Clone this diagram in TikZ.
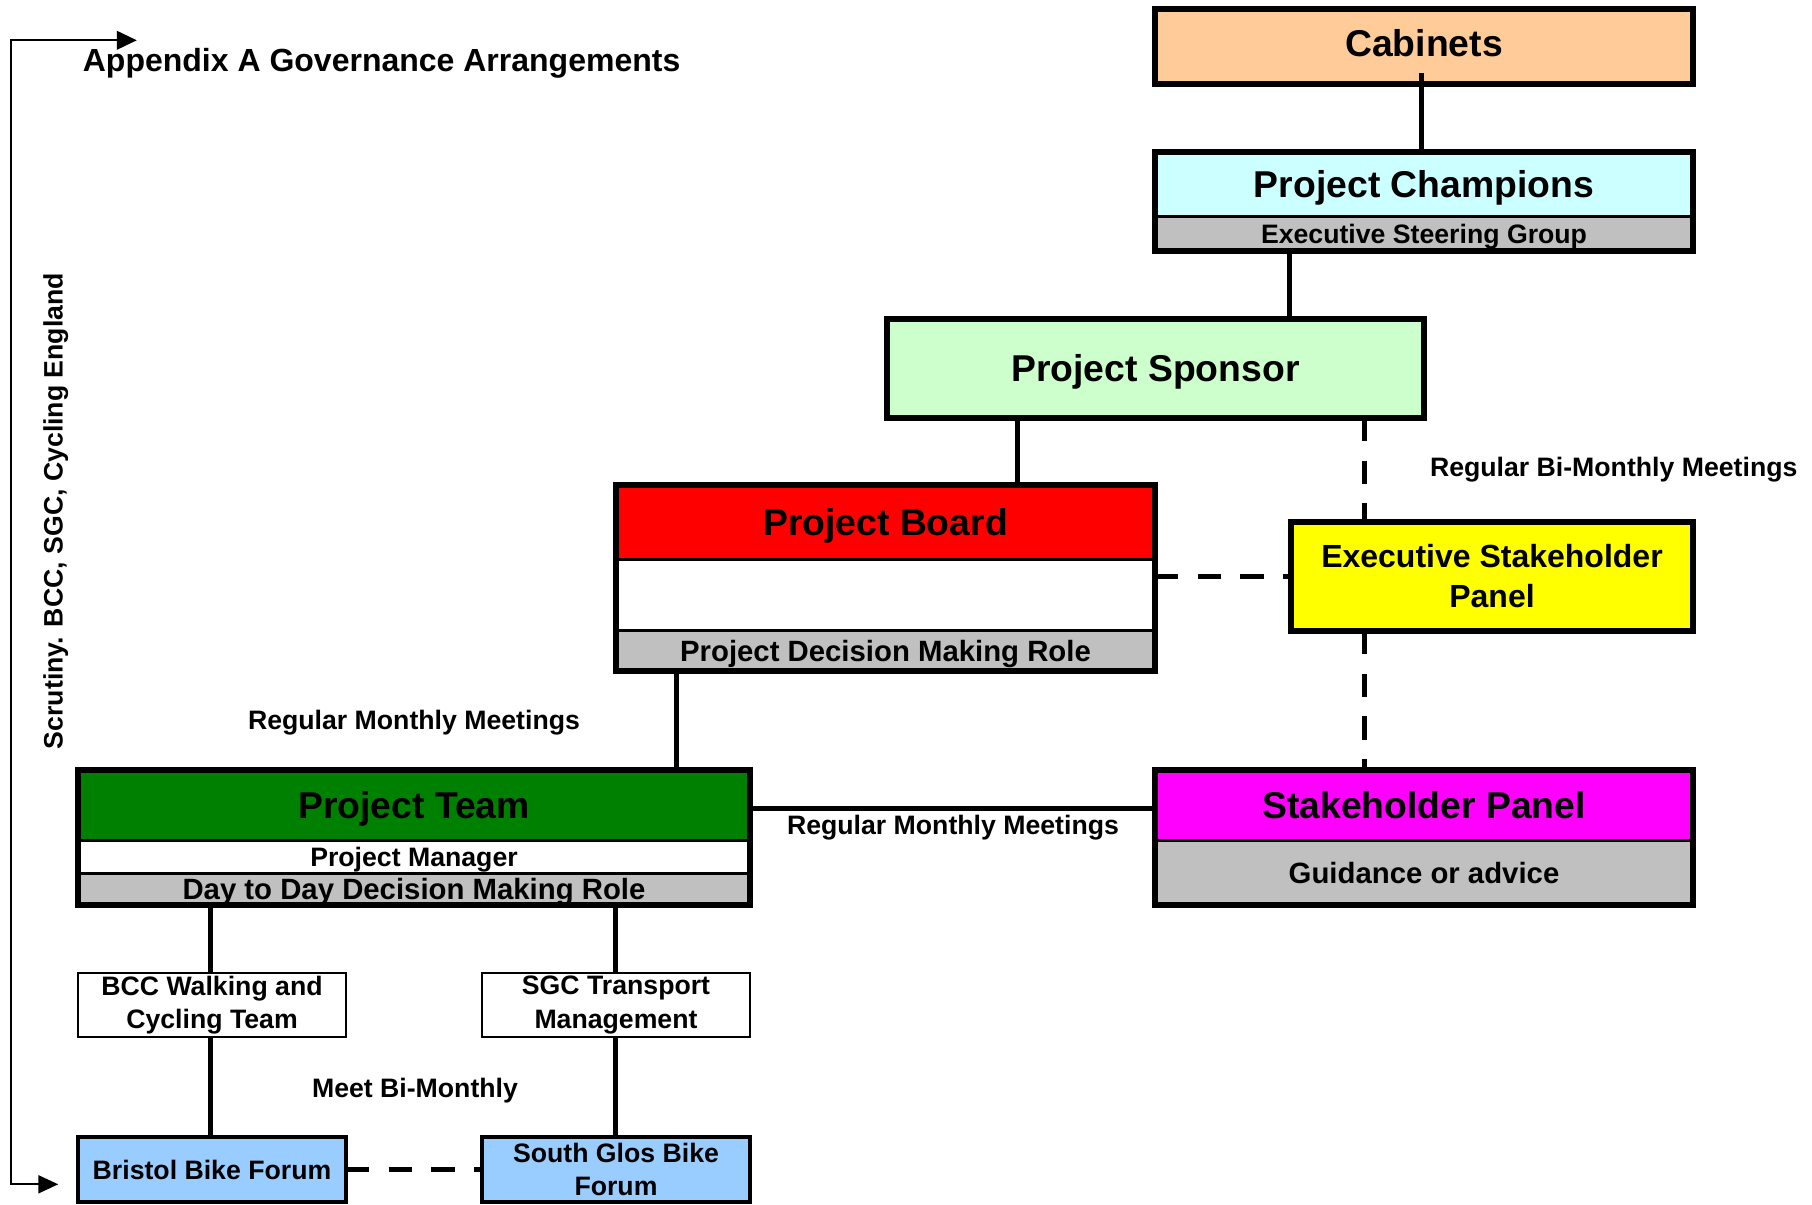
\documentclass[tikz,border=0pt]{standalone}
\usepackage{fontspec}
\setmainfont{Liberation Sans}
\usetikzlibrary{arrows.meta}
\definecolor{cabfill}{HTML}{FFCC99}
\definecolor{champfill}{HTML}{CCFFFF}
\definecolor{greyfill}{HTML}{C0C0C0}
\definecolor{sponsfill}{HTML}{CCFFCC}
\definecolor{boardfill}{HTML}{FF0000}
\definecolor{espfill}{HTML}{FFFF00}
\definecolor{teamfill}{HTML}{008000}
\definecolor{spfill}{HTML}{FF00FF}
\definecolor{forumfill}{HTML}{99CCFF}
\begin{document}
\begin{tikzpicture}[x=0.75pt,y=-0.75pt,
  sec/.style={inner sep=0pt, outer sep=0pt, draw=black, line width=2.25pt, align=center},
  fbig/.style={font=\fontsize{28}{33.6}\selectfont\bfseries, text height=20pt, text depth=0pt},
  fmid/.style={font=\fontsize{22}{26.4}\selectfont\bfseries, text height=15.75pt, text depth=0pt},
  fsml/.style={font=\fontsize{20}{24}\selectfont\bfseries, text height=14.3pt, text depth=0pt},
  ftwo/.style={font=\fontsize{20}{25}\selectfont\bfseries},
  fesp/.style={font=\fontsize{24}{30}\selectfont\bfseries},
  boxframe/.style={draw=black, line width=4.1pt},
  thinframe/.style={draw=black, line width=2pt},
  forumframe/.style={draw=black, line width=2.6pt},
  conn/.style={draw=black, line width=3.75pt},
  dconn/.style={draw=black, line width=3.9pt, dash pattern=on 17.5pt off 14.5pt},
  lbl/.style={font=\fontsize{20}{24}\selectfont\bfseries, inner sep=0pt, outer sep=0pt},
  scrutarrow/.style={draw=black, line width=1.5pt,
    {Triangle[length=15pt,width=14pt]}-{Triangle[length=15pt,width=13.5pt]}}
]
\useasboundingbox (0,0) rectangle (1812,1205);

% connector columns
\coordinate (c0) at (1421,0);
\coordinate (c1) at (1289,0);
\coordinate (c2) at (1017,0);
\coordinate (c3) at (1364.5,0);
\coordinate (c4) at (676,0);
\coordinate (c5) at (210.5,0);
\coordinate (c6) at (615,0);
\coordinate (h1) at (0,808);

% Cabinets
\node[sec, fbig, text depth=4.5pt, fill=cabfill, minimum width=403.5pt, minimum height=56.25pt] (cab) at (1424,46.5) {Cabinets};
\draw[boxframe] (cab.north west) rectangle (cab.south east);

% Project Champions
\node[sec, fbig, fill=champfill, minimum width=403.5pt, minimum height=48.75pt] (champ1) at (1424,184.5) {Project Champions};
\node[sec, fsml, fill=greyfill, minimum width=403.5pt, minimum height=25.5pt] (champ2) at (1424,234) {Executive Steering Group};
\draw[boxframe] (champ1.north west) rectangle (champ2.south east);

% Project Sponsor
\node[sec, fbig, fill=sponsfill, minimum width=402.75pt, minimum height=74.25pt] (spons) at (1155.5,368.5) {Project Sponsor};
\draw[boxframe] (spons.north west) rectangle (spons.south east);

% Project Board
\node[sec, fbig, fill=boardfill, minimum width=404.25pt, minimum height=55.5pt] (board1) at (885.5,522) {Project Board};
\node[sec, fill=white, minimum width=404.25pt, minimum height=53.25pt] (board2) at (885.5,594.5) {};
\node[sec, fmid, fill=greyfill, minimum width=404.25pt, minimum height=30.75pt] (board3) at (885.5,650.5) {Project Decision Making Role};
\draw[boxframe] (board1.north west) rectangle (board3.south east);

% Executive Stakeholder Panel
\node[sec, fesp, fill=espfill, minimum width=301.5pt, minimum height=81.75pt] (esp) at (1492,576.5) {Executive Stakeholder\\Panel};
\draw[boxframe] (esp.north west) rectangle (esp.south east);

% Project Team
\node[sec, fbig, fill=teamfill, minimum width=504pt, minimum height=52.5pt] (team1) at (414,805) {Project Team};
\node[sec, fsml, fill=white, minimum width=504pt, minimum height=24.75pt] (team2) at (414,856.5) {Project Manager};
\node[sec, fmid, fill=greyfill, minimum width=504pt, minimum height=24pt] (team3) at (414,889) {Day to Day Decision Making Role};
\draw[boxframe] (team1.north west) rectangle (team3.south east);

% Stakeholder Panel
\node[sec, fbig, fill=spfill, minimum width=403.5pt, minimum height=52.5pt] (sp1) at (1424,805) {Stakeholder Panel};
\node[sec, fmid, fill=greyfill, minimum width=403.5pt, minimum height=48.75pt] (sp2) at (1424,872.5) {Guidance or advice};
\draw[boxframe] (sp1.north west) rectangle (sp2.south east);

% Local teams
\node[sec, ftwo, thinframe, fill=white, minimum width=201pt, minimum height=48pt] (bcc) at (212,1005) {BCC Walking and\\Cycling Team};
\node[sec, ftwo, thinframe, fill=white, minimum width=201pt, minimum height=48pt] (sgc) at (616,1005) {SGC Transport\\Management};

% Forums
\node[sec, fsml, forumframe, fill=forumfill, minimum width=201pt, minimum height=48.75pt] (bristol) at (212,1169.5) {Bristol Bike Forum};
\node[sec, ftwo, forumframe, fill=forumfill, minimum width=201pt, minimum height=48.75pt] (sgf) at (616,1169.5) {South Glos Bike\\Forum};

% connectors
\draw[conn] (cab.south -| c0) ++(0pt,8.25pt) -- (champ1.north -| c0);
\draw[conn] (champ2.south -| c1) -- (spons.north -| c1);
\draw[conn] (spons.south -| c2) -- (board1.north -| c2);
\draw[dconn] (spons.south -| c3) -- (esp.north -| c3);
\draw[dconn] (board2.east |- esp.west) -- (esp.west);
\draw[dconn] (esp.south -| c3) -- (sp1.north -| c3);
\draw[conn] (board3.south -| c4) -- (team1.north -| c4);
\draw[conn] (team1.east |- h1) -- (sp1.west |- h1);
\draw[conn] (team3.south -| c5) -- (bcc.north -| c5);
\draw[conn] (team3.south -| c6) -- (sgc.north -| c6);
\draw[conn] (bcc.south -| c5) -- (bristol.north -| c5);
\draw[conn] (sgc.south -| c6) -- (sgf.north -| c6);
\draw[dconn] (bristol.east) -- (sgf.west);

% labels
\node[font=\fontsize{24}{28.8}\selectfont\bfseries, inner sep=0pt, anchor=base west] (title) at (82.6,72) {Appendix A Governance Arrangements};
\node[lbl, anchor=base west] (lblA) at (1430,476) {Regular Bi-Monthly Meetings};
\node[lbl, anchor=base] (lblB) at (414,729.5) {Regular Monthly Meetings};
\node[lbl, anchor=base] (lblC) at (953,834) {Regular Monthly Meetings};
\node[lbl, anchor=base] (lblD) at (415,1097.5) {Meet Bi-Monthly};
\node[lbl, rotate=90, anchor=base] (scrut) at (62.5,511) {Scrutiny. BCC, SGC, Cycling England};

% scrutiny arrow
\coordinate (atop) at (136.8,40.3);
\coordinate (abot) at (58.3,1184.3);
\draw[scrutarrow] (atop) -- (11,40.3) -- (11,1184.3) -- (abot);
\end{tikzpicture}
\end{document}
